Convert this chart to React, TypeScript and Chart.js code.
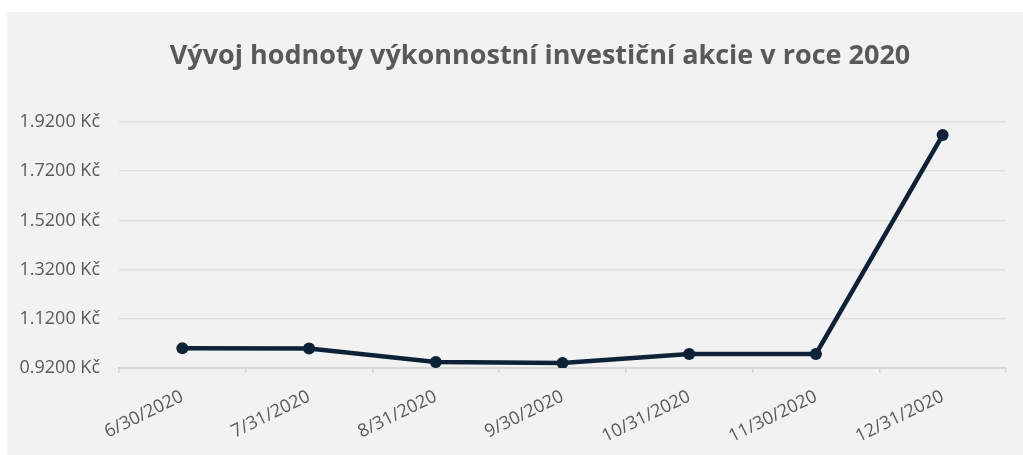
import React, { useEffect, useRef } from "react";
import { Chart, registerables } from "chart.js";

Chart.register(...registerables);

const categories = ["6/30/2020", "7/31/2020", "8/31/2020", "9/30/2020", "10/31/2020", "11/30/2020", "12/31/2020"];
const values = [1.0, 0.999, 0.944, 0.94, 0.977, 0.977, 1.867];
const yTickValues = [0.92, 1.12, 1.32, 1.52, 1.72, 1.92];
const titleText = "Vývoj hodnoty výkonnostní investiční akcie v roce 2020";

const LINE = "#0d2237";
const TEXT = "#595959";
const GRID = "#e0e0e0";
const AXIS = "#d6d6d6";

const titlePlugin = {
  id: "customTitle",
  afterDraw(chart: any) {
    const ctx = chart.ctx;
    ctx.save();
    ctx.fillStyle = TEXT;
    ctx.font = "bold 27px 'Open Sans'";
    ctx.textAlign = "center";
    ctx.textBaseline = "alphabetic";
    ctx.fillText(titleText, 533, 52);
    ctx.restore();
  },
};

export default function App() {
  const ref = useRef<HTMLCanvasElement | null>(null);
  useEffect(() => {
    if (!ref.current) return;
    const chart = new Chart(ref.current, {
      type: "line",
      data: {
        labels: categories,
        datasets: [
          {
            data: values,
            borderColor: LINE,
            backgroundColor: LINE,
            borderWidth: 4.5,
            pointRadius: 6,
            pointBorderWidth: 0,
            pointBackgroundColor: LINE,
            tension: 0,
          },
        ],
      },
      plugins: [titlePlugin],
      options: {
        animation: false,
        responsive: false,
        maintainAspectRatio: false,
        layout: { padding: { left: 0, right: 17, top: 110, bottom: 0 } },
        plugins: {
          legend: { display: false },
          tooltip: { enabled: false },
          title: { display: false },
        },
        scales: {
          x: {
            offset: true,
            grid: {
              display: true,
              drawOnChartArea: false,
              drawTicks: true,
              tickLength: 5,
              offset: true,
              color: AXIS,
              lineWidth: 1.5,
            },
            border: { display: true, color: AXIS, width: 2 },
            ticks: {
              color: TEXT,
              font: { family: "Open Sans", size: 18 },
              minRotation: 26,
              maxRotation: 26,
              autoSkip: false,
              padding: 13,
            },
            afterFit: (scale: any) => {
              scale.height = 87;
            },
          },
          y: {
            min: 0.92,
            max: 1.92,
            grid: { color: GRID, lineWidth: 1.5, drawTicks: false },
            border: { display: false },
            ticks: {
              color: TEXT,
              font: { family: "Open Sans", size: 18 },
              padding: 19,
              callback: (v: any) => Number(v).toFixed(4) + " Kč",
            },
            afterBuildTicks: (scale: any) => {
              scale.ticks = yTickValues.map((v) => ({ value: v }));
            },
            afterFit: (scale: any) => {
              scale.width = 112;
            },
          },
        },
      },
    });
    return () => chart.destroy();
  }, []);
  return (
    <div
      style={{
        position: "absolute",
        left: 7,
        top: 12,
        width: 1016,
        height: 443,
        background: "#f2f2f2",
      }}
    >
      <canvas ref={ref} width={1016} height={443} style={{ display: "block" }} />
    </div>
  );
}
